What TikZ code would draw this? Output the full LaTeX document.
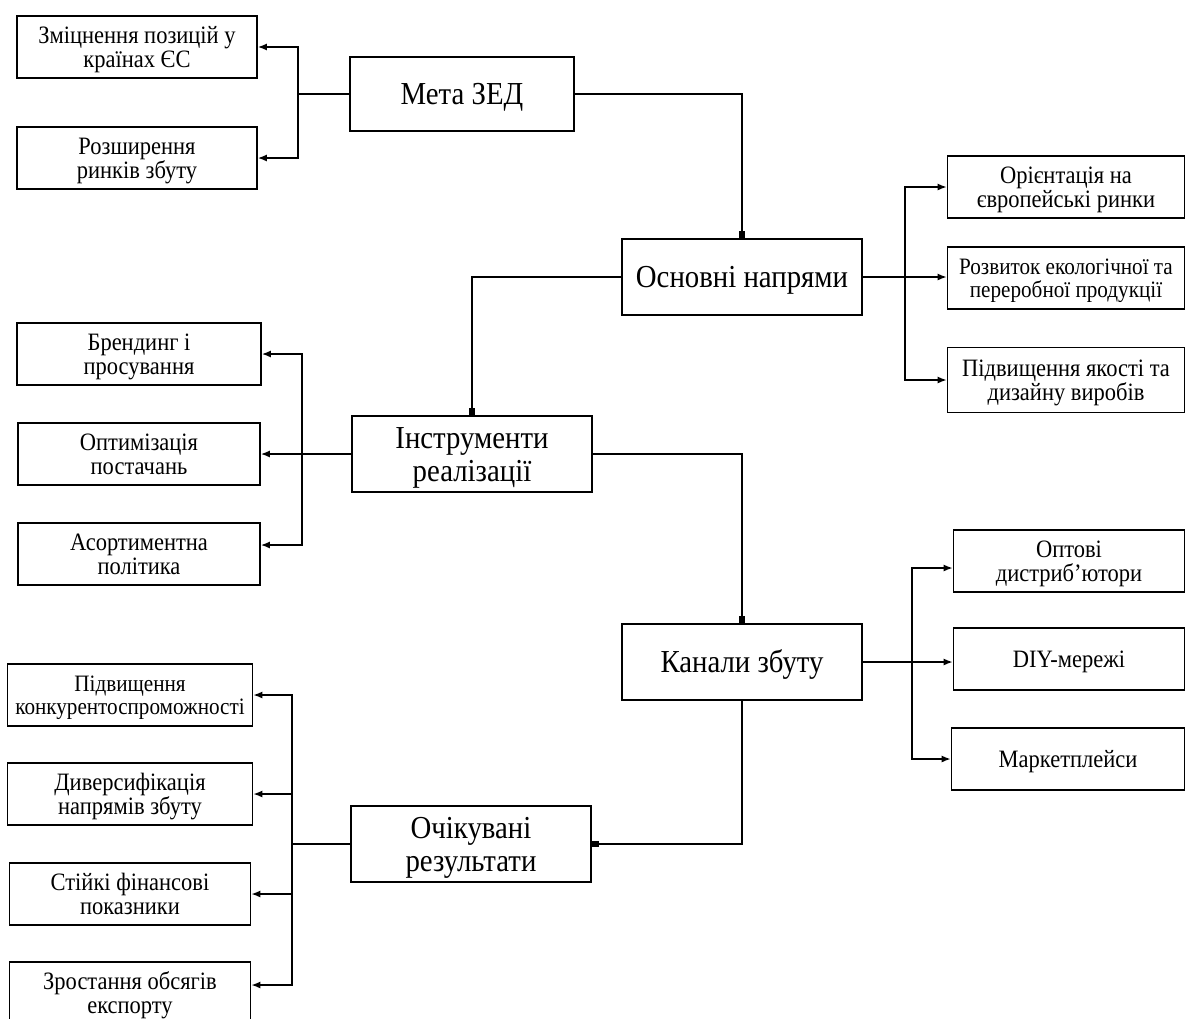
\documentclass[tikz,border=0pt]{standalone}
\usepackage{fontspec}
\setmainfont{Liberation Serif}[FakeStretch=0.9]
\usepackage{tikz}
\usetikzlibrary{arrows.meta, calc}

\begin{document}
\begin{tikzpicture}[
  x=1pt, y=-1pt,
  mainbox/.style={rectangle, draw, line width=1.6pt, minimum width=240pt,
    minimum height=76pt, align=center, inner sep=0pt, text height=21pt, text depth=0pt,
    font=\fontsize{32}{33}\selectfont},
  mainpair/.style={mainbox, text height=54pt},
  leaf/.style={rectangle, draw, line width=1.6pt, minimum width=240pt,
    minimum height=62pt, align=center, inner sep=0pt, text height=40pt, text depth=0pt,
    font=\fontsize{25}{23.5}\selectfont},
  leafone/.style={leaf, text height=16.5pt},
  smalltext/.style={text height=38.5pt, font=\fontsize{23.5}{23}\selectfont},
  wire/.style={line width=1.6pt},
  arr/.style={-{Latex[length=9pt,width=7pt]}, line width=1.6pt},
  link/.style={-{Square[length=7pt,width=6pt]}, line width=1.6pt},
]
  \useasboundingbox (0,0) rectangle (1188,1018);

  \node[mainbox, minimum width=224pt, minimum height=74pt] (meta) at (462,94) {Мета ЗЕД};
  \node[mainbox] (osn) at (742,277) {Основні напрями};
  \node[mainpair] (instr) at (472,454) {Інструменти\\реалізації};
  \node[mainbox] (kanal) at (742,662) {Канали збуту};
  \node[mainpair] (ochik) at (471,844) {Очікувані\\результати};

  \node[leaf] (a1) at (137,47) {Зміцнення позицій у\\країнах ЄС};
  \node[leaf] (a2) at (137,158) {Розширення\\ринків збуту};

  \node[leaf, minimum width=237pt] (b1) at (1066,187) {Орієнтація на\\європейські ринки};
  \node[leaf, smalltext, minimum width=237pt] (b2) at (1066,278) {Розвиток екологічної та\\переробної продукції};
  \node[leaf, minimum width=237pt, minimum height=65pt] (b3) at (1066,380) {Підвищення якості та\\дизайну виробів};

  \node[leaf, minimum width=244pt] (c1) at (139,354) {Брендинг і\\просування};
  \node[leaf, minimum width=242pt] (c2) at (139,454) {Оптимізація\\постачань};
  \node[leaf, minimum width=242pt] (c3) at (139,554) {Асортиментна\\політика};

  \node[leaf, minimum width=231pt] (d1) at (1069,561) {Оптові\\дистриб’ютори};
  \node[leafone, minimum width=231pt] (d2) at (1069,659) {DIY-мережі};
  \node[leafone, minimum width=233pt] (d3) at (1068,759) {Маркетплейси};

  \node[leaf, smalltext, minimum width=245pt] (e1) at (130,695) {Підвищення\\конкурентоспроможності};
  \node[leaf, minimum width=245pt] (e2) at (130,794) {Диверсифікація\\напрямів збуту};
  \node[leaf, minimum width=241pt] (e3) at (130,894) {Стійкі фінансові\\показники};
  \node[leaf, minimum width=241pt] (e4) at (130,993) {Зростання обсягів\\експорту};

  \draw[link] (meta.east) -| (osn.north);
  \draw[link] (osn.west) -| (instr.north);
  \draw[link] (instr.east) -| (kanal.north);
  \draw[link] (kanal.south) |- (ochik.east);

  \coordinate (ja) at (298,94);
  \draw[wire] (meta.west) -- (ja);
  \draw[arr] (ja) |- (a1.east);
  \draw[arr] (ja) |- (a2.east);

  \coordinate (jb) at (905,277);
  \draw[arr] (osn.east) -- (osn.east -| b2.west);
  \draw[arr] (jb) |- (b1.west);
  \draw[arr] (jb) |- (b3.west);

  \coordinate (jc) at (302,454);
  \draw[arr] (instr.west) -- (c2.east);
  \draw[arr] (jc) |- (c1.east);
  \draw[arr] (jc) |- ([yshift=9pt]c3.east);

  \coordinate (jd) at (912,662);
  \draw[arr] (kanal.east) -- (kanal.east -| d2.west);
  \draw[arr] (jd) |- ([yshift=-7pt]d1.west);
  \draw[arr] (jd) |- (d3.west);

  \coordinate (je) at (292,844);
  \draw[wire] (ochik.west) -- (je);
  \draw[arr] (je) |- (e1.east);
  \draw[arr] (je) |- (e2.east);
  \draw[arr] (je) |- (e3.east);
  \draw[arr] (je) |- ([yshift=8pt]e4.east);
\end{tikzpicture}
\end{document}
